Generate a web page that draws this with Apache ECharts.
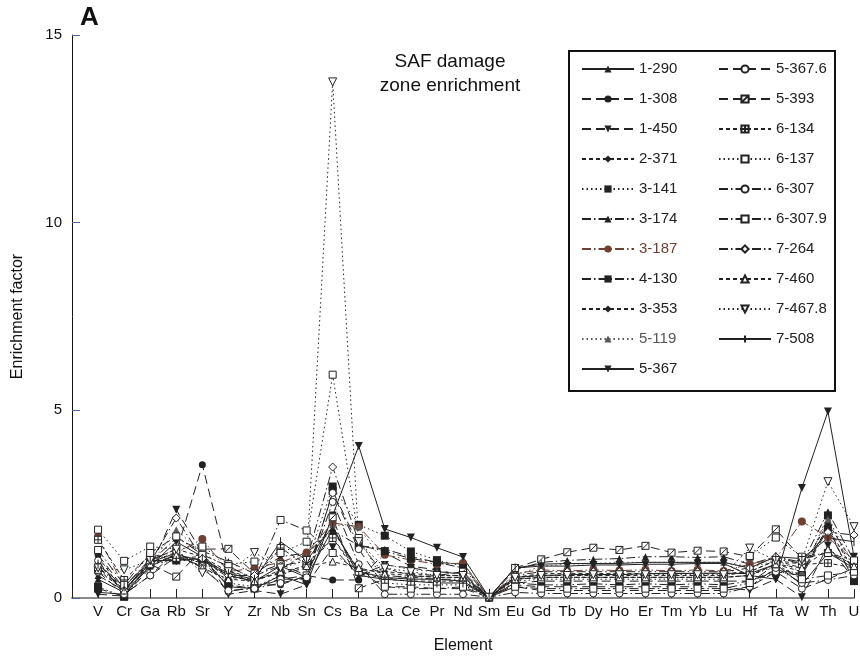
<!DOCTYPE html>
<html><head><meta charset="utf-8">
<script src="https://cdn.jsdelivr.net/npm/echarts/dist/echarts.min.js"></script>
<style>html,body{margin:0;padding:0;background:#fff}#c{width:860px;height:664px}</style>
</head><body><div id="c"></div><script>
// ---- categories ----
const elements = ['V','Cr','Ga','Rb','Sr','Y','Zr','Nb','Sn','Cs','Ba','La','Ce','Pr','Nd','Sm','Eu','Gd','Tb','Dy','Ho','Er','Tm','Yb','Lu','Hf','Ta','W','Th','U'];
const yTicks = [0, 5, 10, 15];

// ---- series values (one per element) ----
const v1_290  = [0.5,0.15,0.85,1.15,1.0,0.6,0.45,0.85,0.55,1.85, 0.7,0.55,0.5,0.5,0.45,0.02,0.55,0.6,0.62,0.63, 0.62,0.65,0.65,0.66,0.66,0.65,0.9,0.35,1.2,0.8];
const v1_308  = [1.15,0.25,0.95,1.2,3.55,0.75,0.35,0.35,0.6,0.48, 0.48,1.2,0.85,0.75,0.6,0.02,0.4,0.45,0.45,0.45, 0.45,0.45,0.45,0.45,0.45,0.45,0.74,0.65,1.9,0.44];
const v1_450  = [0.1,0.05,0.8,2.35,1.2,0.1,0.2,0.1,0.35,1.35, 0.6,0.88,0.8,0.7,0.65,0.02,0.35,0.3,0.3,0.3, 0.3,0.3,0.3,0.3,0.3,0.2,0.5,0.02,1.4,0.5];
const v2_371  = [0.9,0.2,1.0,1.3,1.1,0.6,0.45,0.75,1.2,1.8, 0.75,0.7,0.65,0.6,0.6,0.02,0.55,0.65,0.65,0.65, 0.65,0.65,0.65,0.65,0.65,0.7,1.0,0.8,2.0,0.9];
const v3_141  = [0.3,0.03,0.9,1.0,1.0,0.4,0.3,0.6,0.9,2.97, 1.95,1.66,1.24,1.01,0.85,0.02,0.5,0.55,0.55,0.55, 0.55,0.55,0.55,0.55,0.55,0.6,0.85,0.6,2.2,0.6];
const v3_174  = [0.6,0.2,0.95,1.6,1.25,0.97,0.65,1.1,1.2,1.8, 1.4,1.3,1.1,0.95,0.9,0.02,0.75,0.95,1.0,1.03, 1.05,1.1,1.1,1.08,1.1,0.9,1.1,0.9,2.3,1.0];
const v3_187  = [1.64,0.3,1.05,1.2,1.57,0.7,0.8,0.95,1.21,2.0, 1.9,1.15,1.01,0.9,0.93,0.02,0.65,0.75,0.72,0.75, 0.73,0.75,0.72,0.75,0.72,0.9,1.05,2.04,1.62,1.0];
const v4_130  = [0.25,0.05,0.95,1.05,0.95,0.35,0.25,0.5,0.5,2.85, 1.4,1.25,1.05,0.95,0.8,0.02,0.4,0.35,0.35,0.38, 0.35,0.38,0.35,0.38,0.35,0.45,0.7,0.6,1.85,0.45];
const v3_353  = [1.1,0.15,1.05,1.1,1.0,0.55,0.5,0.65,0.8,1.6, 0.6,0.8,0.6,0.55,0.55,0.02,0.5,0.55,0.55,0.55, 0.55,0.55,0.55,0.55,0.55,0.6,0.9,0.7,1.9,0.7];
const v5_119  = [0.7,0.25,0.9,1.82,1.2,0.8,0.55,0.95,1.1,1.95, 1.9,0.9,0.75,0.7,0.65,0.02,0.6,0.85,0.9,0.92, 0.95,0.95,0.95,0.95,0.95,0.8,1.0,0.7,2.1,0.9];
const v5_367  = [0.15,0.1,0.85,1.5,1.1,0.3,0.25,0.6,0.35,2.2, 4.05,1.84,1.61,1.34,1.09,0.02,0.8,0.85,0.85,0.88, 0.88,0.9,0.9,0.92,0.92,0.6,0.5,2.93,4.97,1.1];
const v5_367_6 = [0.7,0.1,0.6,1.1,0.85,0.17,0.3,0.5,0.6,2.8, 1.3,0.3,0.3,0.25,0.25,0.02,0.3,0.2,0.2,0.2, 0.2,0.2,0.2,0.2,0.2,0.3,0.7,0.25,0.5,0.8];
const v5_393  = [0.8,0.25,0.9,0.57,1.3,1.31,0.65,0.9,0.6,2.15, 0.26,0.5,0.55,0.6,0.7,0.02,0.8,1.03,1.22,1.34, 1.28,1.39,1.21,1.26,1.24,1.1,1.83,1.05,1.2,0.9];
const v6_134  = [1.55,0.48,1.15,1.07,1.1,0.7,0.55,1.33,0.9,1.6, 0.7,0.5,0.45,0.45,0.45,0.02,0.55,0.6,0.6,0.6, 0.6,0.6,0.6,0.6,0.6,0.7,1.0,0.9,0.93,0.8];
const v6_137  = [1.82,0.99,1.37,1.3,1.37,0.9,0.97,1.2,1.5,5.95, 1.6,0.4,0.35,0.35,0.35,0.02,0.45,0.5,0.5,0.5, 0.5,0.5,0.5,0.5,0.5,1.12,1.61,1.1,1.2,1.0];
const v6_307  = [1.0,0.1,0.6,1.24,0.8,0.2,0.25,0.4,0.55,2.56, 0.9,0.1,0.1,0.1,0.1,0.02,0.15,0.12,0.12,0.12, 0.12,0.12,0.12,0.12,0.12,0.3,0.8,0.4,0.48,0.6];
const v6_307_9 = [1.28,0.35,1.2,1.64,1.15,0.85,0.5,2.08,1.8,1.2, 0.7,0.3,0.25,0.25,0.3,0.02,0.3,0.25,0.25,0.25, 0.25,0.25,0.25,0.25,0.25,0.4,0.9,0.5,0.6,0.7];
const v7_264  = [0.84,0.2,0.95,2.13,1.05,0.6,0.6,0.85,1.0,3.49, 1.5,0.6,0.55,0.5,0.5,0.02,0.6,0.7,0.7,0.7, 0.7,0.7,0.7,0.7,0.7,0.8,1.1,0.95,1.75,1.68];
const v7_460  = [0.75,0.2,0.9,1.15,0.8,0.5,0.45,0.7,0.85,0.97, 0.8,0.65,0.6,0.55,0.55,0.02,0.5,0.55,0.55,0.55, 0.55,0.55,0.55,0.55,0.55,0.6,0.9,0.8,1.3,0.85];
const v7_467_8 = [0.8,0.75,1.0,1.3,0.67,0.7,1.21,0.8,1.0,13.75, 1.5,0.8,0.7,0.6,0.6,0.02,0.55,0.6,0.6,0.62, 0.62,0.62,0.62,0.62,0.62,1.33,1.0,1.0,3.1,1.9];
const v7_508  = [0.9,0.3,1.0,1.0,1.05,0.65,0.5,1.5,1.0,1.9, 0.6,0.5,0.45,0.4,0.4,0.02,0.8,0.9,0.92,0.92, 0.92,0.95,0.95,0.95,0.95,0.8,1.1,1.05,1.6,1.5];

// ---- styles ----
const FONT = '"Liberation Sans", Arial, Helvetica, sans-serif';
const K = '#222', BROWN = '#6e4034', GRAY = '#5a5a5a';
const TRI_DOWN = 'path://M0,0L10,0L5,9Z';
const SQ_X = 'path://M0,0L10,0L10,10L0,10Z M0,10L10,0';
const SQ_PLUS = 'path://M0,0L10,0L10,10L0,10Z M5,0L5,10 M0,5L10,5';
const BAR = 'path://M0,5M10,5M5,0L5,10';
const LD = [9,5], DA = [4,3], DO = [1.5,3], DD = [9,3,1.5,3];

// name, values, dash, symbol, filled, color, size
const spec = [
  ['1-290', v1_290, 'solid', 'triangle', true, K, 7],
  ['1-308', v1_308, LD, 'circle', true, K, 7],
  ['1-450', v1_450, LD, TRI_DOWN, true, K, 8],
  ['2-371', v2_371, DA, 'diamond', true, K, 7],
  ['3-141', v3_141, DO, 'rect', true, K, 8],
  ['3-174', v3_174, DD, 'triangle', true, K, 7],
  ['3-187', v3_187, DD, 'circle', true, BROWN, 8],
  ['4-130', v4_130, DD, 'rect', true, K, 8],
  ['3-353', v3_353, DA, 'diamond', true, K, 6],
  ['5-119', v5_119, DO, 'triangle', true, GRAY, 7],
  ['5-367', v5_367, 'solid', TRI_DOWN, true, K, 8],
  ['5-367.6', v5_367_6, LD, 'circle', false, K, 7],
  ['5-393', v5_393, LD, SQ_X, false, K, 7],
  ['6-134', v6_134, DA, SQ_PLUS, false, K, 7],
  ['6-137', v6_137, DO, 'rect', false, K, 7],
  ['6-307', v6_307, DD, 'circle', false, K, 7],
  ['6-307.9', v6_307_9, DD, 'rect', false, K, 7],
  ['7-264', v7_264, DD, 'diamond', false, K, 8],
  ['7-460', v7_460, DA, 'triangle', false, K, 7],
  ['7-467.8', v7_467_8, DO, TRI_DOWN, false, K, 8],
  ['7-508', v7_508, 'solid', BAR, false, K, 9]
];

const series = spec.map(([name, vals, dash, sym, filled, col, size]) => ({
  name, type: 'line',
  data: elements.map((e, i) => [e, vals[i]]),
  symbol: sym, symbolSize: size, showAllSymbol: true,
  lineStyle: { color: col, width: 1, type: dash },
  itemStyle: filled ? { color: col, borderColor: col, borderWidth: 0 }
                    : { color: '#fff', borderColor: col, borderWidth: 1 },
  emphasis: { disabled: true },
  animation: false
}));

const legendData = (arr) => arr.map(s => ({
  name: s[0],
  textStyle: { color: s[0] === '3-187' ? BROWN : (s[0] === '5-119' ? '#555' : '#222') }
}));
const legendBase = {
  orient: 'vertical', top: 61, padding: 0, itemWidth: 52, itemHeight: 9, itemGap: 14,
  selectedMode: false,
  textStyle: { fontSize: 15, lineHeight: 16, fontFamily: FONT, color: '#222' }
};

const chart = echarts.init(document.getElementById('c'), null, { renderer: 'canvas' });
chart.setOption({
  animation: false,
  backgroundColor: '#fff',
  textStyle: { fontFamily: FONT },
  grid: { left: 72, right: 6, top: 35, bottom: 66, containLabel: false, outerBoundsMode: 'none' },
  xAxis: {
    type: 'category', data: [''].concat(elements), boundaryGap: false,
    axisLine: { show: true, lineStyle: { color: '#8a8a8a', width: 2 } },
    axisTick: { show: true, inside: true, length: 9, interval: 0, lineStyle: { color: '#222' } },
    axisLabel: { interval: 0, fontSize: 15, color: '#111', margin: 6, fontFamily: FONT },
    splitLine: { show: false },
    name: 'Element', nameLocation: 'middle', nameGap: 40,
    nameTextStyle: { fontSize: 16, color: '#111', fontFamily: FONT }
  },
  yAxis: {
    type: 'value', min: yTicks[0], max: yTicks[yTicks.length - 1], interval: yTicks[1] - yTicks[0],
    axisLine: { show: true, lineStyle: { color: '#111', width: 1 } },
    axisTick: { show: true, inside: true, length: 8, lineStyle: { color: '#5265a8' } },
    axisLabel: { fontSize: 15, color: '#111', margin: 10, fontFamily: FONT },
    splitLine: { show: false },
    name: 'Enrichment factor', nameLocation: 'middle', nameGap: 46,
    nameTextStyle: { fontSize: 16, color: '#111', fontFamily: FONT }
  },
  legend: [
    Object.assign({}, legendBase, { left: 581, data: legendData(spec.slice(0, 11)) }),
    Object.assign({}, legendBase, { left: 718, data: legendData(spec.slice(11)) })
  ],
  graphic: [
    { type: 'rect', shape: { x: 569, y: 51, width: 266, height: 340 },
      style: { fill: 'none', stroke: '#111', lineWidth: 2 }, z: 10 },
    { type: 'text', x: 80, y: 5,
      style: { text: 'A', fontSize: 26, fontWeight: 'bold', fontFamily: FONT, fill: '#111' } },
    { type: 'text', x: 450, y: 50,
      style: { text: 'SAF damage\nzone enrichment', fontSize: 19, lineHeight: 24, fontFamily: FONT,
               fill: '#111', align: 'center', verticalAlign: 'top' } }
  ],
  series
});
</script></body></html>
